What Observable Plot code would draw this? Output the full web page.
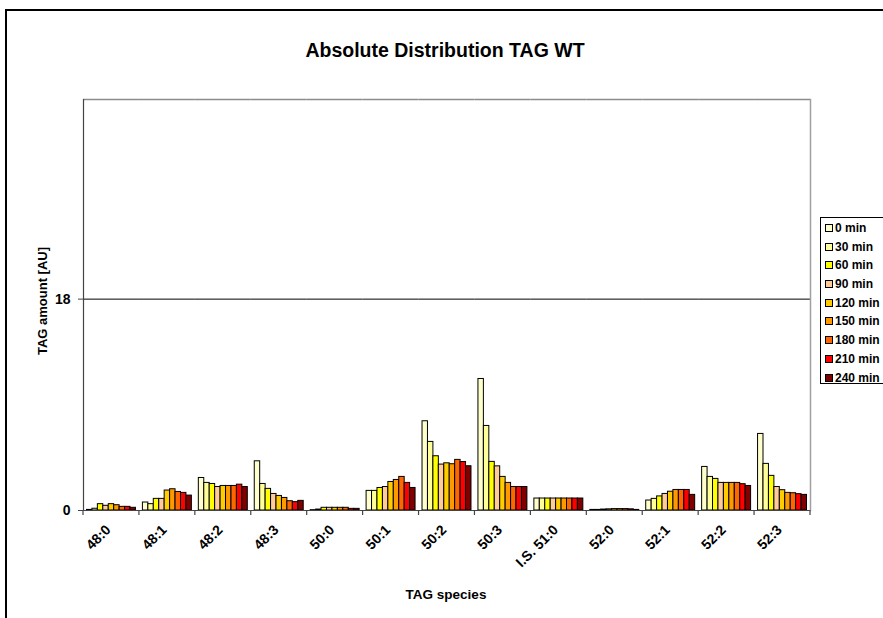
<!DOCTYPE html>
<html>
<head>
<meta charset="utf-8">
<script src="https://cdn.jsdelivr.net/npm/d3@7"></script>
<script src="https://cdn.jsdelivr.net/npm/@observablehq/plot@0.6"></script>
<style>
  body { margin: 0; background: #fff; }
  #chart {
    position: relative; width: 883px; height: 618px; overflow: hidden;
    font-family: "Liberation Sans", Arial, sans-serif; font-weight: bold; color: #000;
  }
  #chart svg { position: absolute; left: 0; top: 0; }
  .border { position: absolute; left: 5px; top: 9px; width: 1000px; height: 1000px;
    border-left: 2px solid #000; border-top: 2px solid #000; }
  .title { position: absolute; left: 0; width: 890px; top: 39px; text-align: center; font-size: 19.5px; }
  .ylabel { position: absolute; left: 42px; top: 301px; font-size: 13px; white-space: nowrap;
    transform: translate(-50%, -50%) rotate(-90deg); }
  .xlabel { position: absolute; left: 446px; top: 594px; font-size: 13.5px; white-space: nowrap;
    transform: translate(-50%, -50%); }
  .legend { position: absolute; left: 820px; top: 217px; width: 100px; height: 167px;
    border: 1px solid #000; background: #fff; padding-top: 1px; box-sizing: border-box; }
  .legend .item { height: 18.7px; line-height: 18.7px; font-size: 12px; padding-left: 4px; white-space: nowrap; }
  .legend .sw { display: inline-block; width: 6px; height: 6px; border: 1px solid #000;
    margin-right: 2px; vertical-align: 0px; }
</style>
</head>
<body>
<div id="chart"></div>
<script>
// TAG species (categories along the x axis)
const species = ["48:0", "48:1", "48:2", "48:3", "50:0", "50:1", "50:2", "50:3",
                 "I.S. 51:0", "52:0", "52:1", "52:2", "52:3"];

// Time points (one bar per time point in every species group)
const times = ["0 min", "30 min", "60 min", "90 min", "120 min",
               "150 min", "180 min", "210 min", "240 min"];

// Fill colour for each time point
const colors = ["#FFFFCC", "#FFFF99", "#FFFF00", "#FFCC99", "#FFCC00",
                "#FF9900", "#FF6600", "#FF0000", "#800000"];

// TAG amount [AU], one row per species, one value per time point
const amounts = [
  [0.05, 0.15, 0.54, 0.40, 0.54, 0.45, 0.31, 0.31, 0.23], // 48:0
  [0.68, 0.54, 0.99, 0.99, 1.70, 1.81, 1.58, 1.50, 1.27], // 48:1
  [2.77, 2.35, 2.26, 2.00, 2.09, 2.09, 2.09, 2.20, 2.00], // 48:2
  [4.19, 2.26, 1.84, 1.41, 1.24, 1.07, 0.79, 0.71, 0.82], // 48:3
  [0.03, 0.08, 0.23, 0.23, 0.23, 0.23, 0.23, 0.14, 0.14], // 50:0
  [1.67, 1.67, 1.92, 2.00, 2.43, 2.60, 2.86, 2.35, 1.92], // 50:1
  [7.60, 5.84, 4.62, 3.91, 4.02, 3.94, 4.31, 4.13, 3.77], // 50:2
  [11.20, 7.20, 4.14, 3.76, 2.86, 2.35, 2.00, 2.00, 2.00], // 50:3
  [1.02, 1.02, 1.02, 1.02, 1.02, 1.02, 1.02, 1.02, 1.02], // I.S. 51:0
  [0.05, 0.05, 0.08, 0.10, 0.12, 0.12, 0.12, 0.10, 0.05], // 52:0
  [0.85, 0.99, 1.20, 1.41, 1.60, 1.75, 1.75, 1.75, 1.33], // 52:1
  [3.71, 2.86, 2.69, 2.35, 2.35, 2.35, 2.35, 2.24, 2.09], // 52:2
  [6.52, 3.97, 2.95, 2.00, 1.73, 1.50, 1.47, 1.39, 1.33]  // 52:3
];

// Y axis ticks and upper bound
const yTicks = [0, 18];
const yMax = 35;

// Long-format table for Plot
const rows = species.flatMap((s, i) =>
  times.map((t, j) => ({species: s, time: t, value: amounts[i][j]})));

const plot = Plot.plot({
  width: 883,
  height: 618,
  marginTop: 99,
  marginBottom: 108,
  marginLeft: 83,
  marginRight: 73,
  style: {
    fontFamily: "'Liberation Sans', Arial, sans-serif",
    fontWeight: "bold",
    fontSize: "13px",
    color: "#000",
    background: "transparent",
    overflow: "visible"
  },
  fx: {domain: species, padding: 0, round: false, label: null},
  x: {domain: times, paddingInner: 0, paddingOuter: 0.64, round: false, axis: null},
  y: {domain: [0, yMax], label: null},
  color: {domain: times, range: colors},
  marks: [
    Plot.ruleY([yTicks[1]], {stroke: "#000", strokeWidth: 1}),
    Plot.ruleY([yMax], {stroke: "#8c8c8c", strokeWidth: 1.5}),
    Plot.barY(rows, {
      fx: "species", x: "time", y: "value", fill: "time",
      stroke: "#000", strokeWidth: 1
    }),
    Plot.ruleY([0], {stroke: "#444", strokeWidth: 1.2}),
    Plot.frame({anchor: "left", facetAnchor: "left", stroke: "#444", strokeWidth: 1.2}),
    Plot.frame({anchor: "right", facetAnchor: "right", stroke: "#a0a0a0", strokeWidth: 1.5}),
    Plot.axisY({ticks: yTicks, tickSize: 5, tickPadding: 8, fontSize: 14, label: null, stroke: "#444"}),
    Plot.axisFx({anchor: "bottom", tickRotate: -45, tickSize: 0, tickPadding: 17,
                 fontSize: 14, label: null, dx: -3})
  ]
});

// Tick marks at the boundaries between species groups
const fx = plot.scale("fx");
const ys = plot.scale("y");
const base = ys.apply(0);
const bounds = species.map(s => fx.apply(s)).concat(fx.apply(species[species.length - 1]) + fx.bandwidth);
d3.select(plot).append("g")
  .attr("stroke", "#444")
  .attr("stroke-width", 1.2)
  .selectAll("line")
  .data(bounds)
  .join("line")
  .attr("x1", d => d).attr("x2", d => d)
  .attr("y1", base).attr("y2", base + 5);

const chart = document.getElementById("chart");
chart.appendChild(plot);

// Chart frame, title and axis titles
const border = document.createElement("div");
border.className = "border";
chart.prepend(border);

const title = document.createElement("div");
title.className = "title";
title.textContent = "Absolute Distribution TAG WT";
chart.appendChild(title);

const ylabel = document.createElement("div");
ylabel.className = "ylabel";
ylabel.textContent = "TAG amount [AU]";
chart.appendChild(ylabel);

const xlabel = document.createElement("div");
xlabel.className = "xlabel";
xlabel.textContent = "TAG species";
chart.appendChild(xlabel);

// Legend of time points
const legend = document.createElement("div");
legend.className = "legend";
times.forEach((t, i) => {
  const item = document.createElement("div");
  item.className = "item";
  const sw = document.createElement("span");
  sw.className = "sw";
  sw.style.background = colors[i];
  item.appendChild(sw);
  item.appendChild(document.createTextNode(t));
  legend.appendChild(item);
});
chart.appendChild(legend);
</script>
</body>
</html>
